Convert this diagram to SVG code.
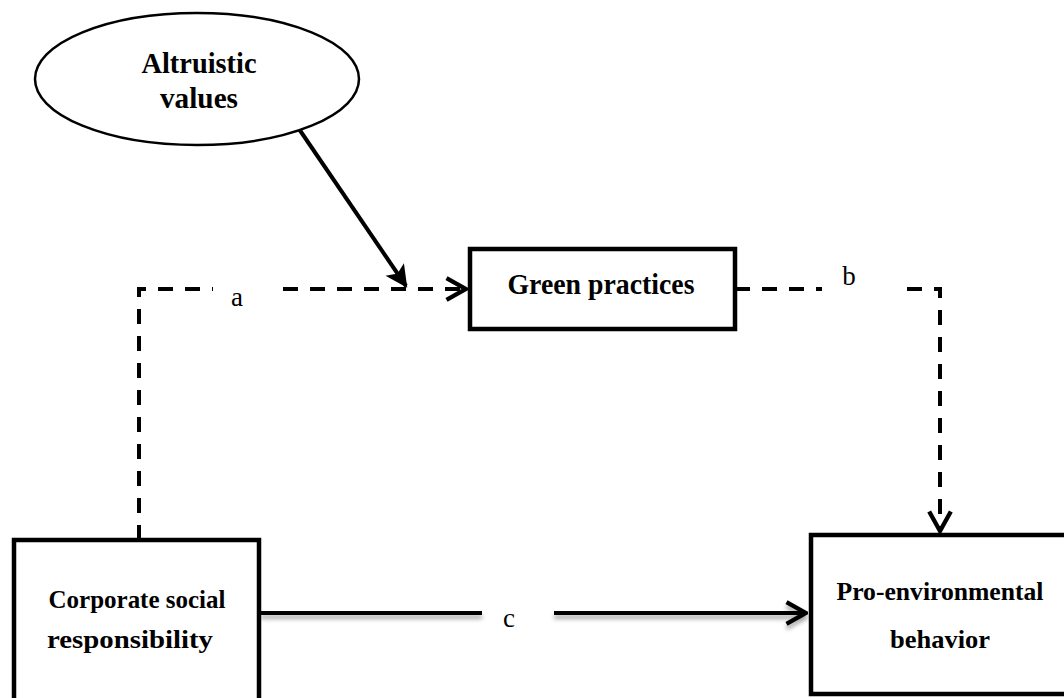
<svg xmlns="http://www.w3.org/2000/svg" width="1064" height="698" viewBox="0 0 1064 698">
  <style>
    .node { fill: #fff; stroke: #000; stroke-width: 4.5; }
    .ell { fill: #fff; stroke: #000; stroke-width: 2.5; }
    .t { font-family: "Liberation Serif", "Times New Roman", serif; font-weight: bold; fill: #000; text-anchor: middle; }
    .lbl { font-family: "Liberation Serif", "Times New Roman", serif; font-size: 27px; fill: #000; text-anchor: middle; }
    .dash { fill: none; stroke: #000; stroke-width: 4; stroke-dasharray: 15 12; }
    .solid { fill: none; stroke: #000; stroke-width: 4; }
  </style>
  <defs>
    <marker id="open" markerUnits="userSpaceOnUse" markerWidth="24" markerHeight="26" viewBox="-20 -12 22 24" refX="0" refY="0" orient="auto">
      <path d="M-18,-10 L0,0 L-18,10" fill="none" stroke="#000" stroke-width="4" stroke-linejoin="miter"/>
    </marker>
    <marker id="filled" markerUnits="userSpaceOnUse" markerWidth="24" markerHeight="24" viewBox="-20 -12 22 24" refX="0" refY="0" orient="auto">
      <path d="M-18,-9 L0,0 L-18,9 L-14,0 Z" fill="#000" stroke="#000" stroke-width="2"/>
    </marker>
    <filter id="shadow" filterUnits="userSpaceOnUse" x="250" y="590" width="590" height="50">
      <feDropShadow dx="0" dy="4" stdDeviation="2" flood-color="#000" flood-opacity="0.35"/>
    </filter>
  </defs>

  <g id="connectors">
    <!-- a: CSR -> Green practices -->
    <path class="dash" d="M139,540 V289 H213"/>
    <path class="dash" d="M283,289 H466" marker-end="url(#open)"/>
    <!-- b: Green practices -> Pro-environmental -->
    <path class="dash" d="M735,289 H822"/>
    <path class="dash" d="M907,289 H940 V531" marker-end="url(#open)"/>
    <!-- moderation -->
    <path class="solid" d="M297,126 L406,286" marker-end="url(#filled)"/>
    <!-- c: CSR -> Pro-environmental -->
    <g filter="url(#shadow)">
      <path class="solid" d="M261,613 H482"/>
      <path class="solid" d="M554,613 H806" marker-end="url(#open)"/>
    </g>
    <text class="lbl" x="237" y="306">a</text>
    <text class="lbl" x="849" y="285">b</text>
    <text class="lbl" x="509" y="627">c</text>
  </g>

  <g id="altruistic">
    <ellipse class="ell" cx="197" cy="79" rx="162" ry="66"/>
    <text class="t" font-size="29" x="199" y="73" textLength="115" lengthAdjust="spacingAndGlyphs">Altruistic</text>
    <text class="t" font-size="29" x="199" y="108" textLength="78" lengthAdjust="spacingAndGlyphs">values</text>
  </g>

  <g id="green">
    <rect class="node" x="470" y="249" width="265" height="80"/>
    <text class="t" font-size="29" x="601" y="294" textLength="187" lengthAdjust="spacingAndGlyphs">Green practices</text>
  </g>

  <g id="csr">
    <rect class="node" x="14" y="540" width="245" height="170"/>
    <text class="t" font-size="25.5" x="137" y="608" textLength="177" lengthAdjust="spacingAndGlyphs">Corporate social</text>
    <text class="t" font-size="25.5" x="130" y="648" textLength="166" lengthAdjust="spacingAndGlyphs">responsibility</text>
  </g>

  <g id="proenv">
    <rect class="node" x="811" y="535" width="270" height="159"/>
    <text class="t" font-size="25.5" x="940" y="600" textLength="207" lengthAdjust="spacingAndGlyphs">Pro-environmental</text>
    <text class="t" font-size="25.5" x="940" y="648" textLength="100" lengthAdjust="spacingAndGlyphs">behavior</text>
  </g>
</svg>
